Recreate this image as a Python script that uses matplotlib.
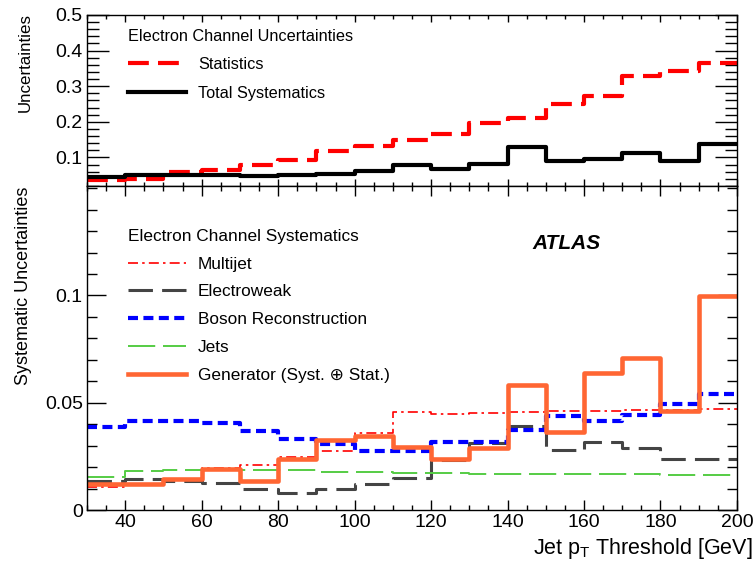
import numpy as np
import matplotlib
matplotlib.use("Agg")
import matplotlib.pyplot as plt
from matplotlib.ticker import MultipleLocator, FixedLocator, FuncFormatter

plt.rcParams['font.family'] = ['Liberation Sans', 'DejaVu Sans']
plt.rcParams['mathtext.fontset'] = 'custom'
plt.rcParams['mathtext.rm'] = 'Liberation Sans'

# bin edges of jet pT threshold [GeV]
edges = np.arange(30, 201, 10)

# top panel: electron channel uncertainties
statistics = [0.036, 0.041, 0.058, 0.066, 0.080, 0.092, 0.117, 0.131, 0.148,
              0.166, 0.196, 0.211, 0.251, 0.272, 0.330, 0.342, 0.365]
total_syst = [0.045, 0.050, 0.050, 0.052, 0.048, 0.050, 0.055, 0.061, 0.078,
              0.068, 0.081, 0.130, 0.091, 0.096, 0.113, 0.089, 0.137]

# bottom panel: electron channel systematics
multijet = [0.0109, 0.0121, 0.0146, 0.0196, 0.0212, 0.0249, 0.0277, 0.0361, 0.0458,
            0.0449, 0.0450, 0.0455, 0.0460, 0.0460, 0.0464, 0.0467, 0.0470]
electroweak = [0.0137, 0.0143, 0.0133, 0.0125, 0.0097, 0.0081, 0.0097, 0.0121, 0.0147,
               0.0234, 0.0312, 0.0393, 0.0280, 0.0315, 0.0288, 0.0240, 0.0240]
boson = [0.0389, 0.0417, 0.0417, 0.0405, 0.0369, 0.0332, 0.0307, 0.0277, 0.0277,
         0.0318, 0.0318, 0.0374, 0.0439, 0.0414, 0.0444, 0.0495, 0.0542]
jets = [0.0156, 0.0184, 0.0187, 0.0190, 0.0187, 0.0187, 0.0179, 0.0176, 0.0173,
        0.0171, 0.0170, 0.0169, 0.0168, 0.0167, 0.0166, 0.0165, 0.0164]
generator = [0.0121, 0.0121, 0.0143, 0.0190, 0.0136, 0.0238, 0.0327, 0.0343, 0.0296,
             0.0237, 0.0288, 0.0583, 0.0363, 0.0639, 0.0707, 0.0461, 0.0997]


def hstep(ax, vals, **kw):
    """ draw a histogram outline, ROOT style """
    y = np.append(vals, vals[-1])
    ax.step(edges, y, where='post', **kw)


def style_axis(ax, ymaj_len, ymin_len, xmaj_len, xmin_len):
    ax.tick_params(which='both', direction='in', top=True, right=True,
                   labelsize=14, width=1, pad=3)
    ax.tick_params(axis='y', which='major', length=ymaj_len)
    ax.tick_params(axis='y', which='minor', length=ymin_len)
    ax.tick_params(axis='x', which='major', length=xmaj_len)
    ax.tick_params(axis='x', which='minor', length=xmin_len)
    ax.xaxis.set_major_locator(MultipleLocator(20))
    ax.xaxis.set_minor_locator(MultipleLocator(5))
    ax.set_xlim(30, 200)
    for sp in ax.spines.values():
        sp.set_linewidth(1)


fig = plt.figure(figsize=(7.54, 5.65), dpi=100)
ax1 = fig.add_axes([0.1154, 0.6708, 0.862, 0.3027])
ax2 = fig.add_axes([0.1154, 0.0973, 0.862, 0.5735])

# top panel
hstep(ax1, statistics, color='#ff0000', lw=3, dashes=(5, 2.2), label='Statistics')
hstep(ax1, total_syst, color='black', lw=3, label='Total Systematics')
ax1.set_ylim(0.02, 0.5)
ax1.yaxis.set_major_locator(MultipleLocator(0.1))
ax1.yaxis.set_minor_locator(MultipleLocator(0.02))
ax1.yaxis.set_major_formatter(FuncFormatter(lambda v, p: f"{v:g}"))
style_axis(ax1, 16, 8.5, 5, 3)
ax1.tick_params(labelbottom=False)
ax1.set_ylabel('Uncertainties', fontsize=12.2, loc='top')
ax1.yaxis.set_label_coords(-0.084, 1.012)
leg1 = ax1.legend(title='Electron Channel Uncertainties', loc='upper left',
                  bbox_to_anchor=(0.063, 0.92), frameon=False, fontsize=11.7,
                  title_fontsize=11.7, handlelength=3.6, handletextpad=0.74,
                  labelspacing=0.83, borderpad=0, borderaxespad=0)
leg1._legend_box.align = 'left'

# bottom panel
hstep(ax2, multijet, color='#ff0000', lw=1.2, dashes=(6, 2.5, 1.5, 2.5), label='Multijet')
hstep(ax2, electroweak, color='#444444', lw=2.2, dashes=(8, 3), label='Electroweak')
hstep(ax2, boson, color='#0000ff', lw=3, dashes=(2.4, 1.3), label='Boson Reconstruction')
hstep(ax2, jets, color='#55cc44', lw=1.4, dashes=(14, 4), label='Jets')
hstep(ax2, generator, color='#ff6633', lw=3.3, label='Generator (Syst. \u2295 Stat.)')
ax2.set_ylim(0, 0.151)
ax2.yaxis.set_major_locator(FixedLocator([0, 0.05, 0.1]))
ax2.yaxis.set_minor_locator(MultipleLocator(0.01))
ax2.yaxis.set_major_formatter(FuncFormatter(lambda v, p: f"{v:g}"))
style_axis(ax2, 14, 7, 7.5, 3.8)
ax2.set_ylabel('Systematic Uncertainties', fontsize=13, loc='top')
ax2.yaxis.set_label_coords(-0.084, 0.997)
ax2.set_xlabel(r'Jet p$_{\mathregular{T}}$ Threshold [GeV]', fontsize=15.5, loc='right')
ax2.xaxis.set_label_coords(1.024, -0.081)
leg2 = ax2.legend(title='Electron Channel Systematics', loc='upper left',
                  bbox_to_anchor=(0.063, 0.868), frameon=False, fontsize=12.4,
                  title_fontsize=12.4, handlelength=3.35, handletextpad=0.69,
                  labelspacing=0.74, borderpad=0, borderaxespad=0)
leg2._legend_box.align = 'left'

ax2.text(0.737, 0.824, 'ATLAS', transform=ax2.transAxes, fontsize=15,
         fontweight='bold', fontstyle='italic', ha='center', va='center')

fig.savefig('out.png', dpi=100)
